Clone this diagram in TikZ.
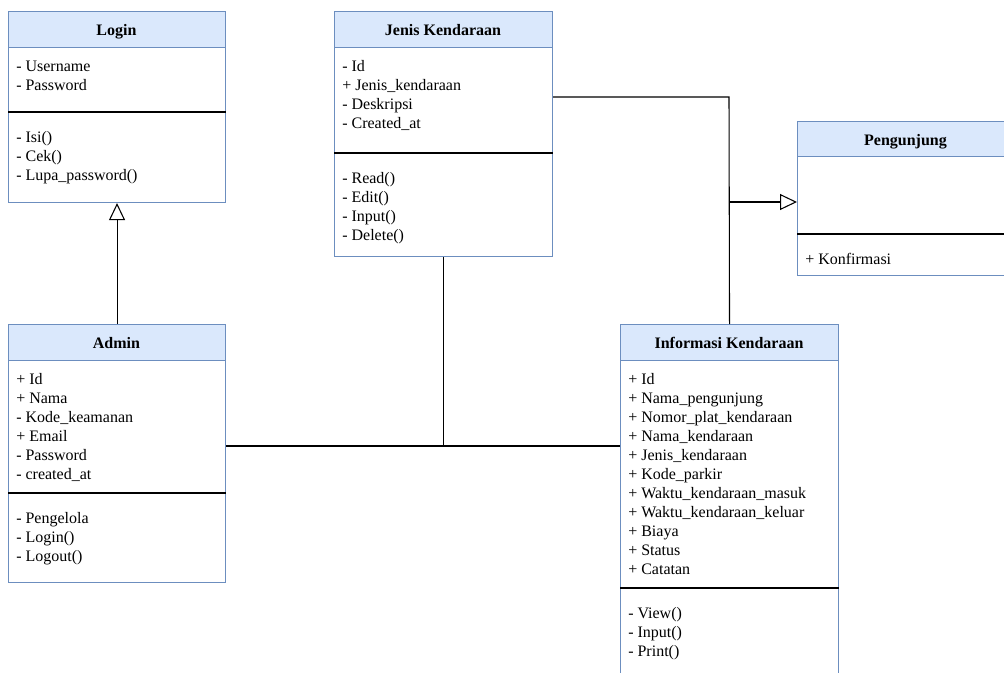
\documentclass[tikz,border=0pt]{standalone}
\usepackage{fontspec}
\setmainfont{LiberationSerif}[Extension=.ttf, UprightFont=*-Regular, BoldFont=*-Bold, ItalicFont=*-Italic, BoldItalicFont=*-BoldItalic]
\usetikzlibrary{arrows.meta}
\definecolor{hdrfill}{HTML}{DAE8FC}
\definecolor{hdrline}{HTML}{6C8EBF}
\tikzset{
  cls/.style={draw=hdrline, line width=0.8pt, anchor=north west, inner sep=0pt},
  hdr/.style={draw=hdrline, fill=hdrfill, line width=0.8pt, anchor=north west, inner sep=0pt},
  title/.style={anchor=base, inner sep=0pt, font=\fontsize{12}{14}\selectfont\bfseries},
  attr/.style={anchor=base west, inner sep=0pt, font=\fontsize{12}{14}\selectfont},
  divider/.style={draw=black, line width=0.8pt},
  assoc/.style={draw=black, line width=0.8pt},
  gen/.style={draw=black, line width=0.8pt, -{Triangle[open, length=12.75pt, width=12pt]}}
}
\begin{document}
\begin{tikzpicture}[x=0.75pt, y=-0.75pt]
\useasboundingbox (0,0) rectangle (1004,672);
\clip (0,0) rectangle (1004,672);
\fill[white] (0,0) rectangle (1004,672);

% ---------- Login ----------
\node[hdr, minimum width=217*0.75pt, minimum height=36*0.75pt] (login-h) at (8,11) {};
\node[cls, minimum width=217*0.75pt, minimum height=191*0.75pt] (login) at (8,11) {};
\node[title] (login-t) at (116.5,35) {Login};
\draw[divider] (login.west |- 0,112) -- (login.east |- 0,112);
\foreach \t [count=\i] in {- Username, - Password}
  \node[attr] (login-a\i) at (16,71+19*\i-19) {\t};
\foreach \t [count=\i] in {- Isi(), - Cek(), - Lupa\_password()}
  \node[attr] (login-m\i) at (16,142+19*\i-19) {\t};

% ---------- Jenis Kendaraan ----------
\node[hdr, minimum width=218*0.75pt, minimum height=36*0.75pt] (jenis-h) at (334,11) {};
\node[cls, minimum width=218*0.75pt, minimum height=245*0.75pt] (jenis) at (334,11) {};
\node[title] (jenis-t) at (443,35) {Jenis Kendaraan};
\draw[divider] (jenis.west |- 0,153) -- (jenis.east |- 0,153);
\foreach \t [count=\i] in {- Id, + Jenis\_kendaraan, - Deskripsi, - Created\_at}
  \node[attr] (jenis-a\i) at (342,71+19*\i-19) {\t};
\foreach \t [count=\i] in {- Read(), - Edit(), - Input(), - Delete()}
  \node[attr] (jenis-m\i) at (342,183+19*\i-19) {\t};

% ---------- Pengunjung ----------
\node[hdr, minimum width=220*0.75pt, minimum height=35*0.75pt] (peng-h) at (797,121) {};
\node[cls, minimum width=220*0.75pt, minimum height=154*0.75pt] (peng) at (797,121) {};
\node[title] (peng-t) at (905.5,145) {Pengunjung};
\draw[divider] (peng.west |- 0,234) -- (peng.east |- 0,234);
\node[attr] (peng-m1) at (805,264) {+ Konfirmasi};

% ---------- Admin ----------
\node[hdr, minimum width=217*0.75pt, minimum height=36*0.75pt] (admin-h) at (8,324) {};
\node[cls, minimum width=217*0.75pt, minimum height=258*0.75pt] (admin) at (8,324) {};
\node[title] (admin-t) at (116.5,348) {Admin};
\draw[divider] (admin.west |- 0,493) -- (admin.east |- 0,493);
\foreach \t [count=\i] in {+ Id, + Nama, - Kode\_keamanan, + Email, - Password, - created\_at}
  \node[attr] (admin-a\i) at (16,384+19*\i-19) {\t};
\foreach \t [count=\i] in {- Pengelola, - Login(), - Logout()}
  \node[attr] (admin-m\i) at (16,523+19*\i-19) {\t};

% ---------- Informasi Kendaraan ----------
\node[hdr, minimum width=218*0.75pt, minimum height=36*0.75pt] (info-h) at (620,324) {};
\node[cls, minimum width=218*0.75pt, minimum height=370*0.75pt] (info) at (620,324) {};
\node[title] (info-t) at (729,348) {Informasi Kendaraan};
\draw[divider] (info.west |- 0,588) -- (info.east |- 0,588);
\foreach \t [count=\i] in {+ Id, + Nama\_pengunjung, + Nomor\_plat\_kendaraan, + Nama\_kendaraan,
  + Jenis\_kendaraan, + Kode\_parkir, + Waktu\_kendaraan\_masuk, + Waktu\_kendaraan\_keluar,
  + Biaya, + Status, + Catatan}
  \node[attr] (info-a\i) at (628,384+19*\i-19) {\t};
\foreach \t [count=\i] in {- View(), - Input(), - Print()}
  \node[attr] (info-m\i) at (628,618+19*\i-19) {\t};

% ---------- Connectors ----------
\coordinate (b1) at (729,97);
\coordinate (b2) at (729,202);
\coordinate (b3) at (443,446);
\draw[gen] (admin.north) -- (login.south);
\draw[assoc] (jenis.east |- b1) -- (b1) -- (info.north);
\draw[gen] (b2) -- (peng.west |- b2);
\draw[assoc] (admin.east |- b3) -- (info.west |- b3);
\draw[assoc] (jenis.south) -- (jenis.south |- b3);
\end{tikzpicture}
\end{document}
